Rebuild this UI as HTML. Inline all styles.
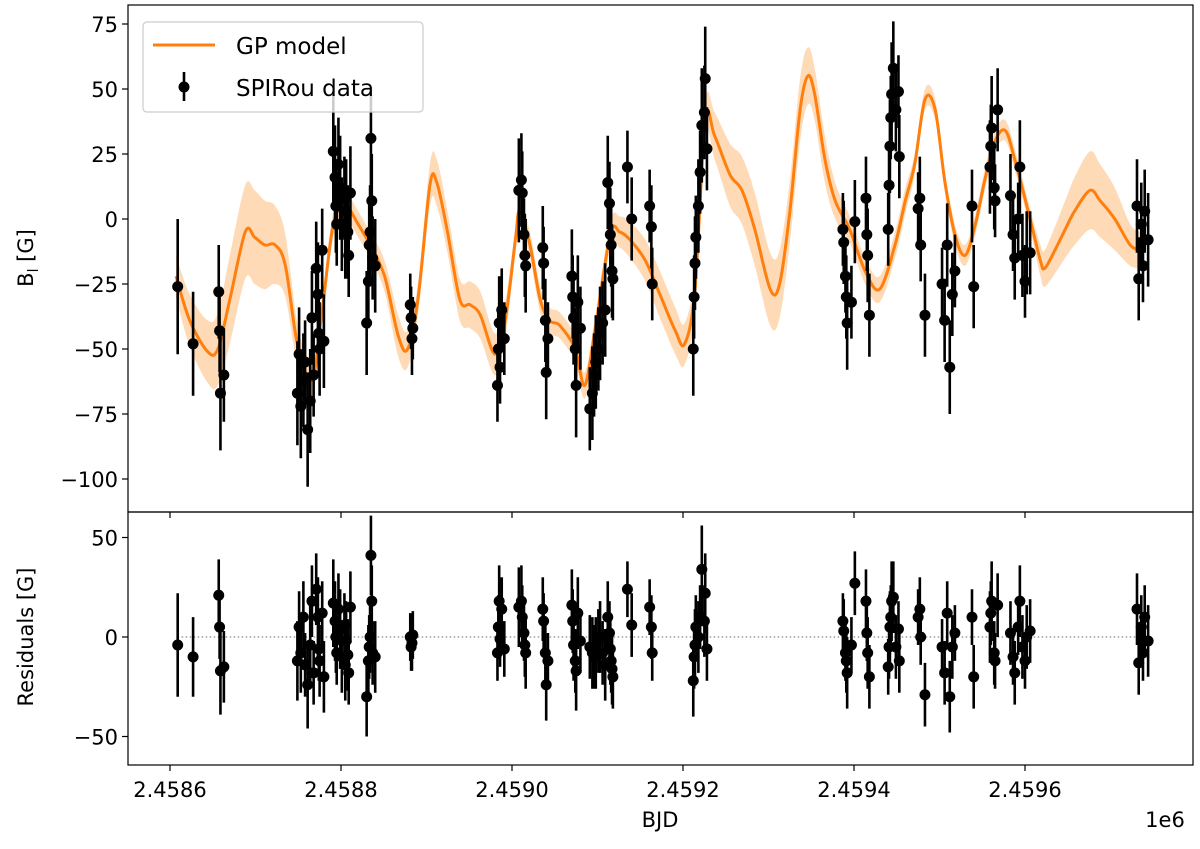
<!DOCTYPE html>
<html><head><meta charset="utf-8"><style>
body{margin:0;background:#fff}
svg text{font-family:"DejaVu Sans","Liberation Sans",sans-serif;fill:#000}
</style></head><body>
<svg id="chart" width="1200" height="844" viewBox="0 0 1200 844" xmlns="http://www.w3.org/2000/svg">
<g id="topPanel"></g>
<g id="botPanel"></g>
</svg>
<script>
// model (days offset from 2458600, G)
const modelDays=[7,23,44,56,70,88,99,111,123,135,149,166,178,191,205,220,234,251,267,278,290,304,312,324,339,351,363,380,392,404,409,421,433,444,456,474,485,497,515,526,538,556,573,591,602,614,626,637,655,669,684,702,713,725,737,746,754,766,778,795,813,830,848,860,871,883,895,906,918,930,942,953,965,977,988,1006,1018,1023,1035,1047,1058,1076,1088,1105,1123,1135];
const modelVals=[-22,-39,-51,-50,-31,-5,-7,-10,-10,-18,-48,-62,-35,-2,5,-2,-10,-22,-45,-50,-31,13,14,-4,-31,-33,-37,-52,-39,-8,3,-10,-31,-39,-41,-50,-64,-43,-6,-5,-8,-16,-29,-43,-48,-27,38,32,17,11,-4,-27,-25,3,42,55,48,23,7,-4,-20,-27,-10,7,21,46,42,15,-6,-14,-2,15,30,34,23,0,-16,-19,-12,-4,3,11,7,0,-10,-12];
const modelSig=[8,10,12,14,17,18,18,17,15,12,8,6,5,5,5,5,5,6,8,7,6,8,9,8,8,9,9,8,7,5,5,5,5,5,5,5,5,5,5,6,7,8,9,9,8,8,7,9,12,13,14,14,13,12,12,11,10,9,7,5,5,5,5,5,4,4,4,4,4,4,4,4,4,4,4,4,6,7,9,11,13,15,14,12,8,7];
// data
const obsDays=[9,27,57,58,59,63,149,151,153,156,158,161,164,166,168,171,173,174,175,178,180,191,193,194,195,197,199,201,204,205,206,208,209,211,230,232,233,234,235,236,237,240,281,282,283,284,383,384,385,386,388,391,408,411,412,414,415,416,436,437,439,440,442,470,471,472,474,475,477,480,491,494,496,498,501,503,506,509,512,514,515,516,517,518,535,540,561,563,564,612,613,614,615,618,620,622,625,626,628,787,788,790,791,792,797,801,814,815,816,818,840,841,842,843,844,846,849,852,853,875,877,878,883,903,906,909,912,915,918,938,940,959,960,961,964,965,968,983,986,988,992,994,997,1000,1002,1006,1131,1133,1136,1138,1140,1144];
const obsVals=[-26,-48,-28,-43,-67,-60,-67,-52,-72,-62,-55,-81,-70,-38,-60,-19,-29,-44,-50,-12,-47,26,16,5,-2,21,12,-2,8,-5,3,-5,-14,10,-40,-24,-10,-5,31,7,-15,-18,-33,-38,-46,-42,-64,-50,-40,-57,-35,-46,11,15,10,-6,-14,-18,-11,-17,-39,-59,-46,-22,-30,-38,-50,-64,-32,-42,-73,-67,-60,-55,-50,-44,-40,-35,14,6,-6,-10,-20,-23,20,0,5,-3,-25,-50,-30,-17,-7,5,18,36,41,54,27,-4,-9,-22,-30,-40,-32,-1,8,-6,-14,-37,-4,13,28,39,48,58,42,49,24,4,8,-10,-37,-25,-39,-10,-57,-29,-20,5,-26,20,28,35,12,7,42,9,-6,-15,0,20,-14,-24,-13,-13,5,-23,-2,-18,3,-8];
const obsErrs=[26,20,18,16,22,18,20,18,20,18,16,22,20,18,16,18,20,16,18,16,18,22,20,18,16,18,20,18,16,18,20,18,16,18,20,18,16,18,20,18,16,18,12,12,14,12,14,16,18,14,16,14,20,18,16,14,16,18,16,14,16,18,14,18,16,18,16,20,18,16,16,18,16,18,16,18,16,18,18,16,18,16,18,16,14,16,14,16,14,18,16,18,16,18,16,22,18,20,16,14,16,14,16,18,14,16,16,14,18,16,14,16,18,16,20,18,16,14,16,14,16,14,16,14,16,16,18,16,14,14,16,18,16,20,16,14,16,16,14,16,14,18,16,14,16,16,18,16,16,14,16,18];
const residVals=[-4,-10,21,5,-17,-15,-12,5,-8,10,-14,-24,-4,18,-18,24,10,-6,-12,12,-20,17,8,0,-8,14,4,-10,6,-14,-2,-9,-18,15,-30,-12,-5,0,41,18,-8,-10,0,-5,-3,1,-8,5,18,-1,14,-6,15,18,10,2,-4,-8,14,8,-8,-24,-12,16,8,-4,-12,-17,12,-2,-5,-8,-10,-8,-2,0,-8,-14,10,2,-6,-12,-16,-20,24,6,15,5,-8,-22,-10,-4,5,0,10,34,8,22,-6,8,3,-8,-12,-18,-4,27,18,2,-8,-20,-15,-5,5,10,18,20,-5,4,-12,10,14,0,-29,-5,-18,12,-30,-5,2,10,-20,5,12,18,-8,-12,16,2,-10,-18,5,18,-5,-12,0,3,14,-13,5,-8,10,-2];
const xTicks=[2458600,2458800,2459000,2459200,2459400,2459600];
const xTickLabels=["2.4586","2.4588","2.4590","2.4592","2.4594","2.4596"];
const yTicksTop=[75,50,25,0,-25,-50,-75,-100];
const yTicksBot=[50,0,-50];

const NS="http://www.w3.org/2000/svg";
const X0=2458600;
function xs(bjd){return 170+0.855*(bjd-X0);}
function xd(d){return 170+0.855*d;}
function yt(v){return 219-2.6*v;}
function yb(v){return 637-1.99*v;}
function mk(tag,attrs,parent){const e=document.createElementNS(NS,tag);for(const k in attrs)e.setAttribute(k,attrs[k]);parent.appendChild(e);return e;}
const topG=document.getElementById('topPanel'),botG=document.getElementById('botPanel');
const L=128,R=1193,T=5,M=512,B=765;
const neg=v=>v<0?'\u2212'+Math.abs(v):String(v);
// Catmull-Rom smoothing
function smooth(pts){
  let d='M'+pts[0][0].toFixed(1)+','+pts[0][1].toFixed(1);
  for(let i=0;i<pts.length-1;i++){
    const p0=pts[Math.max(0,i-1)],p1=pts[i],p2=pts[i+1],p3=pts[Math.min(pts.length-1,i+2)];
    const c1=[p1[0]+(p2[0]-p0[0])/6,p1[1]+(p2[1]-p0[1])/6];
    const c2=[p2[0]-(p3[0]-p1[0])/6,p2[1]-(p3[1]-p1[1])/6];
    d+=`C${c1[0].toFixed(1)},${c1[1].toFixed(1)} ${c2[0].toFixed(1)},${c2[1].toFixed(1)} ${p2[0].toFixed(1)},${p2[1].toFixed(1)}`;
  }
  return d;
}
const upPts=modelDays.map((d,i)=>[xd(d),yt(modelVals[i]+modelSig[i])]);
const loPts=modelDays.map((d,i)=>[xd(d),yt(modelVals[i]-modelSig[i])]).reverse();
const loPath=smooth(loPts).replace(/^M/,'L');
let band=mk('path',{d:smooth(upPts)+loPath+'Z',fill:'#ffdab6',stroke:'none'},topG);


let ln=mk('path',{d:smooth(modelDays.map((d,i)=>[xd(d),yt(modelVals[i])])),fill:'none',stroke:'#ff7f0e','stroke-width':3,'stroke-linejoin':'round'},topG);



let zl=mk('line',{x1:xd(obsDays[0]),x2:xd(obsDays[obsDays.length-1]),y1:yb(0),y2:yb(0),stroke:'#888','stroke-width':1.2,'stroke-dasharray':'1.5,2.5'},botG);



obsDays.forEach((d,i)=>{
  const x=xd(d),v=obsVals[i]!==undefined?obsVals[i]:0,e=obsErrs[i]!==undefined?obsErrs[i]:18,r=residVals[i]!==undefined?residVals[i]:0;
  let g=mk('g',{},topG);
  
  
  mk('line',{x1:x,x2:x,y1:yt(v+e),y2:yt(v-e),stroke:'#000','stroke-width':2.6},g);
  mk('circle',{cx:x,cy:yt(v),r:5.5,fill:'#000'},g);
  let h=mk('g',{},botG);
  
  
  mk('line',{x1:x,x2:x,y1:yb(r+e),y2:yb(r-e),stroke:'#000','stroke-width':2.6},h);
  mk('circle',{cx:x,cy:yb(r),r:5.5,fill:'#000'},h);
});

let f1=mk('rect',{x:L,y:T,width:R-L,height:M-T,fill:'none',stroke:'#000','stroke-width':1.2},topG);


let f2=mk('rect',{x:L,y:M,width:R-L,height:B-M,fill:'none',stroke:'#000','stroke-width':1.2},botG);



yTicksTop.forEach(v=>{
  mk('line',{x1:L-6,x2:L,y1:yt(v),y2:yt(v),stroke:'#000','stroke-width':1.2},topG);
  let t=mk('text',{x:L-10,y:yt(v)+8,'text-anchor':'end','font-size':21},topG);
  t.textContent=neg(v);
  
  
});
yTicksBot.forEach(v=>{
  mk('line',{x1:L-6,x2:L,y1:yb(v),y2:yb(v),stroke:'#000','stroke-width':1.2},botG);
  let t=mk('text',{x:L-10,y:yb(v)+8,'text-anchor':'end','font-size':21},botG);
  t.textContent=neg(v);
  
  
});
xTicks.forEach((b,i)=>{
  const x=xs(b);
  mk('line',{x1:x,x2:x,y1:M,y2:M+6,stroke:'#000','stroke-width':1.2},topG);
  mk('line',{x1:x,x2:x,y1:B,y2:B+6,stroke:'#000','stroke-width':1.2},botG);
  let t=mk('text',{x:x,y:797,'text-anchor':'middle','font-size':21},botG);
  t.textContent=xTickLabels[i];
  
  
});
function label(txt,x,y,rot,name){let t=mk('text',{x:x,y:y,'text-anchor':'middle','font-size':21},botG);if(rot)t.setAttribute('transform',`rotate(-90 ${x} ${y})`);t.innerHTML=txt;}
label('BJD',660,827,false,'x-axis-title');
label('1e6',1165,827,false,'x-axis-offset');
label('B<tspan font-size="14" dy="5">l</tspan><tspan dy="-5"> [G]</tspan>',33,258,true,'y-axis-title');
label('Residuals [G]',33,637,true,'residuals-axis-title');

let lg=mk('g',{},topG);


mk('rect',{x:143,y:22,width:280,height:90,rx:4,fill:'#fff','fill-opacity':0.8,stroke:'#ccc','stroke-width':1.2},lg);
mk('line',{x1:153,x2:215,y1:45,y2:45,stroke:'#ff7f0e','stroke-width':3},lg);
let t1=mk('text',{x:236,y:54,'font-size':23},lg);t1.textContent='GP model';


mk('line',{x1:184,x2:184,y1:72,y2:101,stroke:'#000','stroke-width':2.6},lg);
mk('circle',{cx:184,cy:87,r:5.5,fill:'#000'},lg);
let t2=mk('text',{x:236,y:96,'font-size':23},lg);t2.textContent='SPIRou data';


</script>
</body></html>
